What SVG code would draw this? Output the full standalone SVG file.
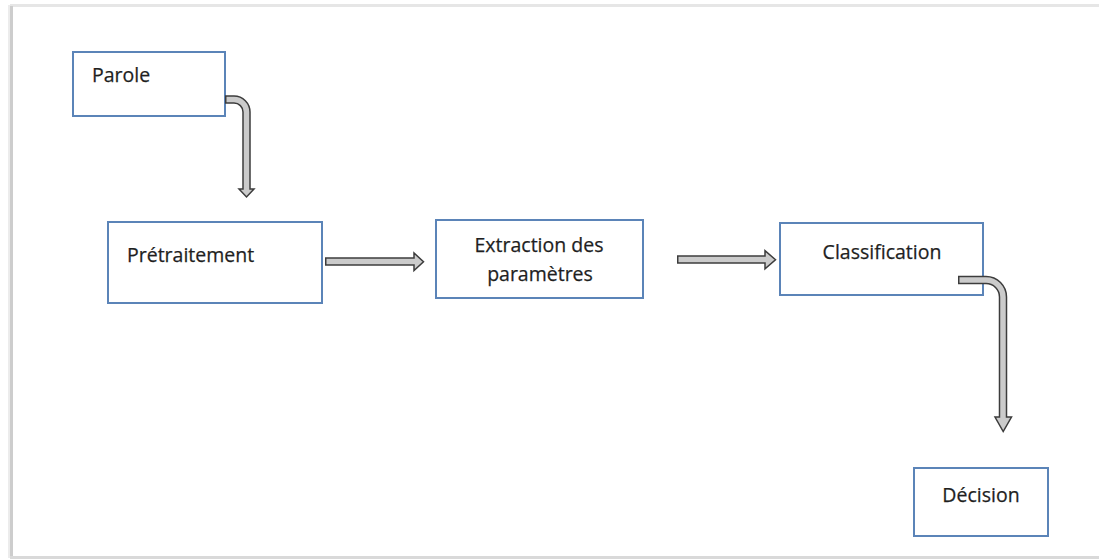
<svg xmlns="http://www.w3.org/2000/svg" width="1099" height="559" viewBox="0 0 1099 559">
<style>
.box{fill:#ffffff;stroke:#5b84b8;stroke-width:2}
.lbl{font-family:"Open Sans","Noto Sans","Liberation Sans",sans-serif;font-size:19.5px;fill:#1f1f1f;stroke:#1f1f1f;stroke-width:0.25}
.mid{text-anchor:middle}
.sh-out{fill:none;stroke:#3c3c3c;stroke-width:8.5;stroke-linecap:butt}
.sh-in{fill:none;stroke:#cbcbcb;stroke-width:5.5;stroke-linecap:butt}
.head{fill:#cbcbcb;stroke:#3c3c3c;stroke-width:1.5;stroke-linejoin:miter}
</style>
<rect x="0" y="0" width="1099" height="559" fill="#ffffff"/>
<g id="frame">
<line x1="10" y1="5.5" x2="1099" y2="5.5" stroke="#e6e6e6" stroke-width="3"/>
<line x1="9" y1="5" x2="9" y2="558" stroke="#ececec" stroke-width="2"/>
<line x1="11.5" y1="6" x2="11.5" y2="557" stroke="#cdcdcd" stroke-width="3"/>
<line x1="10" y1="557.5" x2="1099" y2="557.5" stroke="#d9d9d9" stroke-width="3"/>
</g>
<g id="n-parole">
<rect class="box" x="73" y="52" width="152" height="64"/>
<text class="lbl" x="92" y="82">Parole</text>
</g>
<g id="n-pretraitement">
<rect class="box" x="108" y="222" width="214" height="81"/>
<text class="lbl" x="127" y="262">Prétraitement</text>
</g>
<g id="n-extraction">
<rect class="box" x="436" y="220" width="207" height="78"/>
<text class="lbl mid" x="539" y="252">Extraction des</text>
<text class="lbl mid" x="540" y="281">paramètres</text>
</g>
<g id="n-classification">
<rect class="box" x="780" y="223" width="203" height="72"/>
<text class="lbl mid" x="882" y="259">Classification</text>
</g>
<g id="n-decision">
<rect class="box" x="914" y="468" width="134" height="68"/>
<text class="lbl mid" x="981" y="502">Décision</text>
</g>
<g id="connectors">
<g id="c1">
<path class="sh-out" d="M225,99.5 H234 A12.5,12.5 0 0 1 246.5,112 V190"/>
<polygon class="head" points="239,189 254,189 246.5,197"/>
<path class="sh-in" d="M226.5,99.5 H234 A12.5,12.5 0 0 1 246.5,112 V190.5"/>
</g>
<g id="c2">
<path class="sh-out" d="M325,261.5 H415"/>
<polygon class="head" points="414,253 414,270.5 423.5,261.7"/>
<path class="sh-in" d="M326.5,261.5 H415.5"/>
</g>
<g id="c3">
<path class="sh-out" d="M677,259.5 H766"/>
<polygon class="head" points="765,250.7 765,268.8 775.5,259.7"/>
<path class="sh-in" d="M678.5,259.5 H766.5"/>
</g>
<g id="c4">
<path class="sh-out" d="M958,280 H986 A17,17 0 0 1 1003,297 V418"/>
<polygon class="head" points="995,417 1011.5,417 1003.2,431.5"/>
<path class="sh-in" d="M959.5,280 H986 A17,17 0 0 1 1003,297 V418.5"/>
</g>
</g>
</svg>
